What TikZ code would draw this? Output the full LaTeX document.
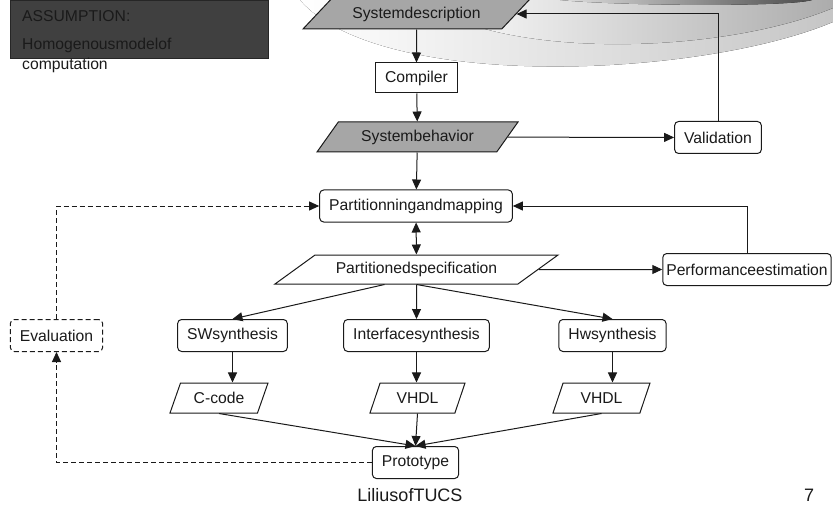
\documentclass[tikz,border=0pt]{standalone}
\usepackage{fontspec}
\setmainfont{Liberation Sans}
\usetikzlibrary{arrows.meta,positioning,calc,shapes.geometric}
\definecolor{Ink}{HTML}{1A1A1A}
\definecolor{DataGray}{HTML}{A6A6A6}
\definecolor{NoteGray}{HTML}{404040}
\definecolor{NoteEdge}{HTML}{262626}

\begin{document}
\begin{tikzpicture}[x=1pt,y=-1pt,
  every node/.style={font=\fontsize{15.7}{20}\selectfont,text=Ink},
  task/.style={draw=Ink,fill=white,rounded corners=4pt,minimum height=32pt,inner xsep=9.5pt,line width=1pt},
  procbox/.style={task,rounded corners=0pt},
  datashape/.style={trapezium,trapezium stretches body,draw=Ink,fill=white,line width=1pt,minimum height=30pt,inner xsep=0pt},
  grayfill/.style={fill=DataGray},
  edge/.style={-{Triangle[length=10pt,width=9pt]},line width=1pt,draw=Ink},
  feedback/.style={edge,dash pattern=on 5pt off 3pt}
]
  \useasboundingbox (0,0) rectangle (833,508);
  % template swoosh
  \fill[left color=white,right color=gray!45] (300,0) .. controls (380,92) and (700,78) .. (833,22) -- (833,0) -- cycle;
  \fill[left color=white,right color=gray!65] (420,0) .. controls (500,60) and (720,55) .. (833,8) -- (833,0) -- cycle;
  \fill[left color=gray!25,right color=black!70] (560,0) .. controls (620,6) and (790,7) .. (812,0) -- cycle;

  % assumption note
  \node[fill=NoteGray,draw=NoteEdge,minimum width=258pt,minimum height=58pt,anchor=north west,inner sep=0pt] (note) at (10,0) {};
  \node[anchor=north west,align=left,inner sep=0pt] (notetext) at (22,10) {ASSUMPTION:\\[8pt]Homogenousmodelof\\computation};

  % flow
  \node[datashape,grayfill,trapezium left angle=37,trapezium right angle=143,minimum width=227pt] (sysdesc) at (416.5,14) {Systemdescription};
  \node[procbox,minimum height=30pt] (compiler) at (416.5,78) {Compiler};
  \node[datashape,grayfill,trapezium left angle=45,trapezium right angle=135,minimum width=201pt] (sysbeh) at (417.5,137) {Systembehavior};
  \node[task] (validation) at (718,137.5) {Validation};
  \node[task] (partmap) at (416,206) {Partitionningandmapping};
  \node[datashape,trapezium left angle=28,trapezium right angle=152,minimum width=283pt,minimum height=29pt] (partspec) at (416.5,269.5) {Partitionedspecification};
  \node[task,inner xsep=3.5pt] (perfest) at (747,269.5) {Performanceestimation};
  \node[task,dash pattern=on 5pt off 3pt] (evaluation) at (56.5,335.5) {Evaluation};
  \node[task] (swsyn) at (232.5,335.5) {SWsynthesis};
  \node[task] (ifsyn) at (416.5,335.5) {Interfacesynthesis};
  \node[task] (hwsyn) at (612.5,335.5) {Hwsynthesis};
  \node[datashape,trapezium left angle=60,trapezium right angle=120,minimum width=98pt] (ccode) at (219,398) {C-code};
  \node[datashape,trapezium left angle=60,trapezium right angle=120,minimum width=95pt] (vhdla) at (417.5,398) {VHDL};
  \node[datashape,trapezium left angle=60,trapezium right angle=120,minimum width=97pt] (vhdlb) at (601.5,398) {VHDL};
  \node[task] (proto) at (415.5,462.5) {Prototype};

  \draw[edge] (sysdesc) -- (compiler);
  \draw[edge] (compiler) -- (sysbeh);
  \draw[edge] (sysbeh) -- (partmap);
  \draw[edge] (sysbeh) -- (validation);
  \draw[edge] (validation.north) |- (sysdesc.east);
  \draw[edge,{Triangle[length=10pt,width=9pt]}-{Triangle[length=10pt,width=9pt]}] (partmap) -- (partspec);
  \draw[edge] (partspec) -- (perfest);
  \draw[edge] (perfest.north) |- (partmap.east);
  \draw[edge] ($(partspec.south)+(-32,0)$) -- (swsyn.north);
  \draw[edge] (partspec.south) -- (ifsyn.north);
  \draw[edge] (partspec.south) -- (hwsyn.north);
  \draw[edge] (swsyn.south) -- (swsyn.south |- ccode.north);
  \draw[edge] (ifsyn.south) -- (ifsyn.south |- vhdla.north);
  \draw[edge] (hwsyn.south) -- (hwsyn.south |- vhdlb.north);
  \draw[edge] (ccode.south) -- (proto.north);
  \draw[edge] (vhdla.south) -- (proto.north);
  \draw[edge] (vhdlb.south) -- (proto.north);
  \draw[feedback] (proto.west) -| (evaluation.south);
  \draw[feedback] (evaluation.north) |- (partmap.west);

  % footer
  \node[font=\fontsize{18}{20}\selectfont] (footer) at (410,495) {LiliusofTUCS};
  \node[font=\fontsize{18}{20}\selectfont] (pageno) at (809,495) {7};
\end{tikzpicture}
\end{document}
